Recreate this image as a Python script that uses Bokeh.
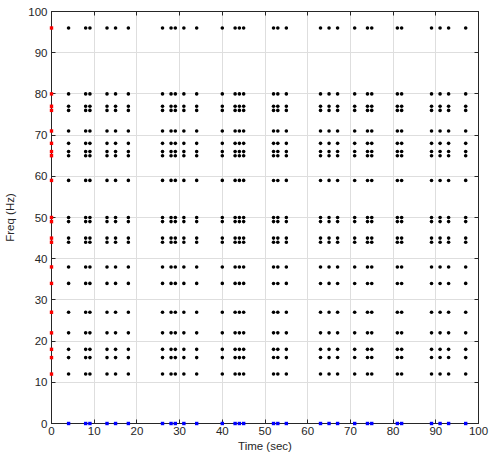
from bokeh.plotting import figure
from bokeh.models import Range1d, LinearAxis, FixedTicker
from bokeh.embed import file_html
from bokeh.resources import INLINE

times = [4, 8, 9, 13, 15, 18, 26, 28, 29, 31, 34, 40, 43, 44, 45, 52, 53, 55,
         63, 65, 67, 71, 74, 75, 81, 82, 89, 91, 93, 97]
freqs = [12, 16, 18, 22, 27, 34, 38, 44, 45, 49, 50, 59, 65, 66, 68, 71, 76, 77, 80, 96]
ticks = [0, 10, 20, 30, 40, 50, 60, 70, 80, 90, 100]

gx = [t for t in times for f in freqs]
gy = [f for t in times for f in freqs]

p = figure(width=490, height=460, output_backend="svg", toolbar_location=None,
           x_range=Range1d(0, 100), y_range=Range1d(0, 100),
           min_border_left=51, min_border_right=12, min_border_top=11, min_border_bottom=37)
p.background_fill_color = "white"
p.border_fill_color = "white"
p.outline_line_color = "#262626"
p.outline_line_width = 1

font = "Liberation Sans"
for ax in (p.xaxis[0], p.yaxis[0]):
    ax.ticker = FixedTicker(ticks=ticks)
    ax.minor_tick_line_color = None
    ax.major_tick_in = 4
    ax.major_tick_out = 0
    ax.axis_line_color = "#262626"
    ax.major_tick_line_color = "#262626"
    ax.major_label_text_font = font
    ax.major_label_text_font_size = "11.5px"
    ax.major_label_text_color = "#262626"
    ax.axis_label_text_font = font
    ax.axis_label_text_font_size = "11.5px"
    ax.axis_label_text_font_style = "normal"
    ax.axis_label_text_color = "#262626"
p.xaxis.axis_label = "Time (sec)"
p.yaxis.axis_label = "Freq (Hz)"
p.xaxis.major_label_standoff = 3
p.xaxis.axis_label_standoff = 2
p.yaxis.major_label_standoff = 4
p.yaxis.axis_label_standoff = 9

for loc in ("right", "above"):
    ax = LinearAxis(ticker=FixedTicker(ticks=ticks))
    ax.major_label_text_font_size = "0px"
    ax.major_label_standoff = 0
    ax.minor_tick_line_color = None
    ax.major_tick_in = 4
    ax.major_tick_out = 0
    ax.axis_line_color = "#262626"
    ax.major_tick_line_color = "#262626"
    p.add_layout(ax, loc)

p.grid.ticker = FixedTicker(ticks=ticks)
p.grid.grid_line_color = "#dedede"
p.grid.grid_line_width = 1

p.scatter(gx, gy, size=3.6, marker="circle", fill_color="black", line_color="black", line_width=0)
p.scatter([0] * len(freqs), freqs, size=3.4, marker="square", fill_color="red", line_color="red",
          line_width=0, level="overlay")
p.scatter(times, [0] * len(times), size=3.4, marker="square", fill_color="blue", line_color="blue",
          line_width=0, level="overlay")

open("out.html", "w").write(file_html(p, INLINE))
